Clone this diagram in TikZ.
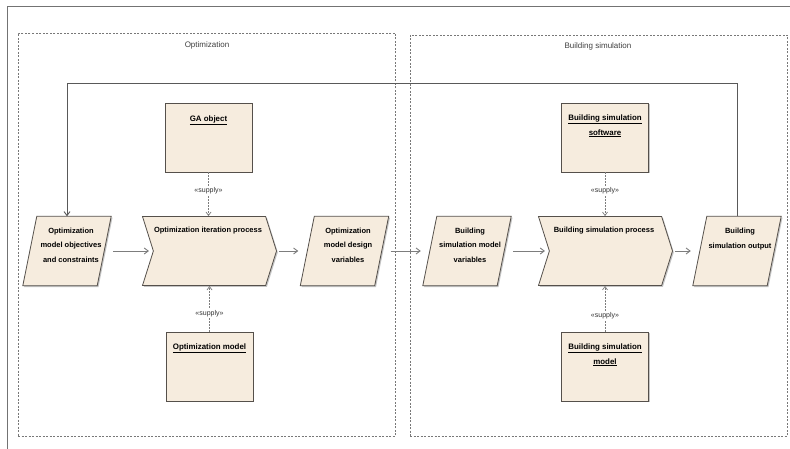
\documentclass[tikz,border=0pt]{standalone}
\usepackage{fontspec}
\setmainfont{Liberation Sans}
\usetikzlibrary{shapes.symbols,arrows.meta,shadows}
\definecolor{fillc}{RGB}{246,236,222}
\definecolor{edgec}{RGB}{85,80,75}
\definecolor{arrc}{RGB}{125,125,125}
\definecolor{contc}{RGB}{120,120,120}
\newcommand{\myparal}[1]{%
  \path[shapebase] ([xshift=7pt]#1.north west) -- ([xshift=7pt]#1.north east)
    -- ([xshift=-7pt]#1.south east) -- ([xshift=-7pt]#1.south west) -- cycle;}
\begin{document}
\begin{tikzpicture}[x=1pt,y=-1pt,
  shapebase/.style={fill=fillc,draw=edgec,line width=0.8pt,
    drop shadow={shadow xshift=1.3pt,shadow yshift=-1.3pt,fill=black!45}},
  para/.style={rectangle,minimum width=74pt,minimum height=69pt,inner sep=0pt},
  chev/.style={shapebase,inner sep=2pt,signal,signal to=east,signal from=west,signal pointer angle=145,
    minimum width=134pt,minimum height=69pt},
  obox/.style={shapebase,inner sep=2pt,rectangle,minimum width=87pt,minimum height=69pt},
  ptext/.style={align=center,font=\bfseries\fontsize{7.5}{14.6}\selectfont,inner sep=0pt},
  ttext/.style={align=center,font=\bfseries\fontsize{7.9}{14.6}\selectfont,inner sep=0pt},
  cont/.style={draw=contc,dash pattern=on 2pt off 1.5pt,line width=0.7pt},
  clabel/.style={font=\fontsize{8}{9}\selectfont,text=black!75,inner sep=0pt},
  flow/.style={draw=arrc,line width=0.9pt,-{Straight Barb[length=4pt,width=6pt]}},
  fback/.style={draw=black!65,line width=0.9pt,-{Straight Barb[length=4pt,width=6pt]}},
  supply/.style={draw=arrc,line width=0.7pt,dash pattern=on 1.5pt off 1.5pt,
    -{Straight Barb[length=3.5pt,width=5pt]}},
  slabel/.style={font=\fontsize{7}{8}\selectfont,fill=white,inner sep=1pt,text=black!80}]
\useasboundingbox (0,0) rectangle (790,449);
\fill[white] (0,0) rectangle (790,449);
% screenshot frame
\draw[black!55,line width=1pt] (7,449) -- (7,7) -- (790,7);
% containers
\node[cont,minimum width=377pt,minimum height=403pt,inner sep=0pt] (opt) at (206.5,234.5) {};
\node[cont,minimum width=377pt,minimum height=401pt,inner sep=0pt] (bsim) at (598.5,235.5) {};
\node[clabel] (optl) at (207,45) {Optimization};
\node[clabel] (bsiml) at (598,46) {Building simulation};
% flow shapes
\node[para] (p1) at (67,251) {};
\node[para] (p2) at (344.5,251) {};
\node[para] (p3) at (467,251) {};
\node[para] (p4) at (737,251) {};
\myparal{p1}\myparal{p2}\myparal{p3}\myparal{p4}
\node[chev] (c1) at (209.5,251) {};
\node[chev] (c2) at (605.5,251) {};
\node[ptext] (p1t) at (71,245) {Optimization\\model objectives\\and constraints};
\node[ptext] (c1t) at (208,231) {Optimization iteration process};
\node[ptext] (p2t) at (348,245) {Optimization\\model design\\variables};
\node[ptext] (p3t) at (470,245) {Building\\simulation model\\variables};
\node[ptext] (c2t) at (604,231) {Building simulation process};
\node[ptext] (p4t) at (740,239) {Building\\simulation output};
% object boxes
\node[obox] (ga) at (208.5,137.5) {};
\node[obox] (bss) at (605,137.5) {};
\node[obox] (om) at (209.5,366.5) {};
\node[obox] (bsm) at (605,366.5) {};
\node[ttext] (gat) at (208.5,120) {\underline{GA object}};
\node[ttext] (bsst) at (605,126) {\underline{Building simulation}\\\underline{software}};
\node[ttext] (omt) at (209.5,348) {\underline{Optimization model}};
\node[ttext] (bsmt) at (605,355) {\underline{Building simulation}\\\underline{model}};
% flow arrows
\draw[flow,shorten <=9pt,shorten >=4pt] (p1.east) -- (c1.west);
\draw[flow,shorten <=2pt,shorten >=9pt] (c1.east) -- (p2.west);
\draw[flow,shorten <=9pt,shorten >=9pt] (p2.east) -- (p3.west);
\draw[flow,shorten <=9pt,shorten >=4pt] (p3.east) -- (c2.west);
\draw[flow,shorten <=2pt,shorten >=9pt] (c2.east) -- (p4.west);
% feedback loop
\coordinate (fb) at (67,83);
\draw[fback] (p4.north) |- (fb) -- (p1.north);
% supply dependencies
\draw[supply] (ga.south) -- (ga.south |- c1.north) node[slabel,pos=0.42] {«supply»};
\draw[supply] (om.north) -- (om.north |- c1.south) node[slabel,pos=0.4] {«supply»};
\draw[supply] (bss.south) -- (bss.south |- c2.north) node[slabel,pos=0.42] {«supply»};
\draw[supply] (bsm.north) -- (bsm.north |- c2.south) node[slabel,pos=0.35] {«supply»};
\end{tikzpicture}
\end{document}
